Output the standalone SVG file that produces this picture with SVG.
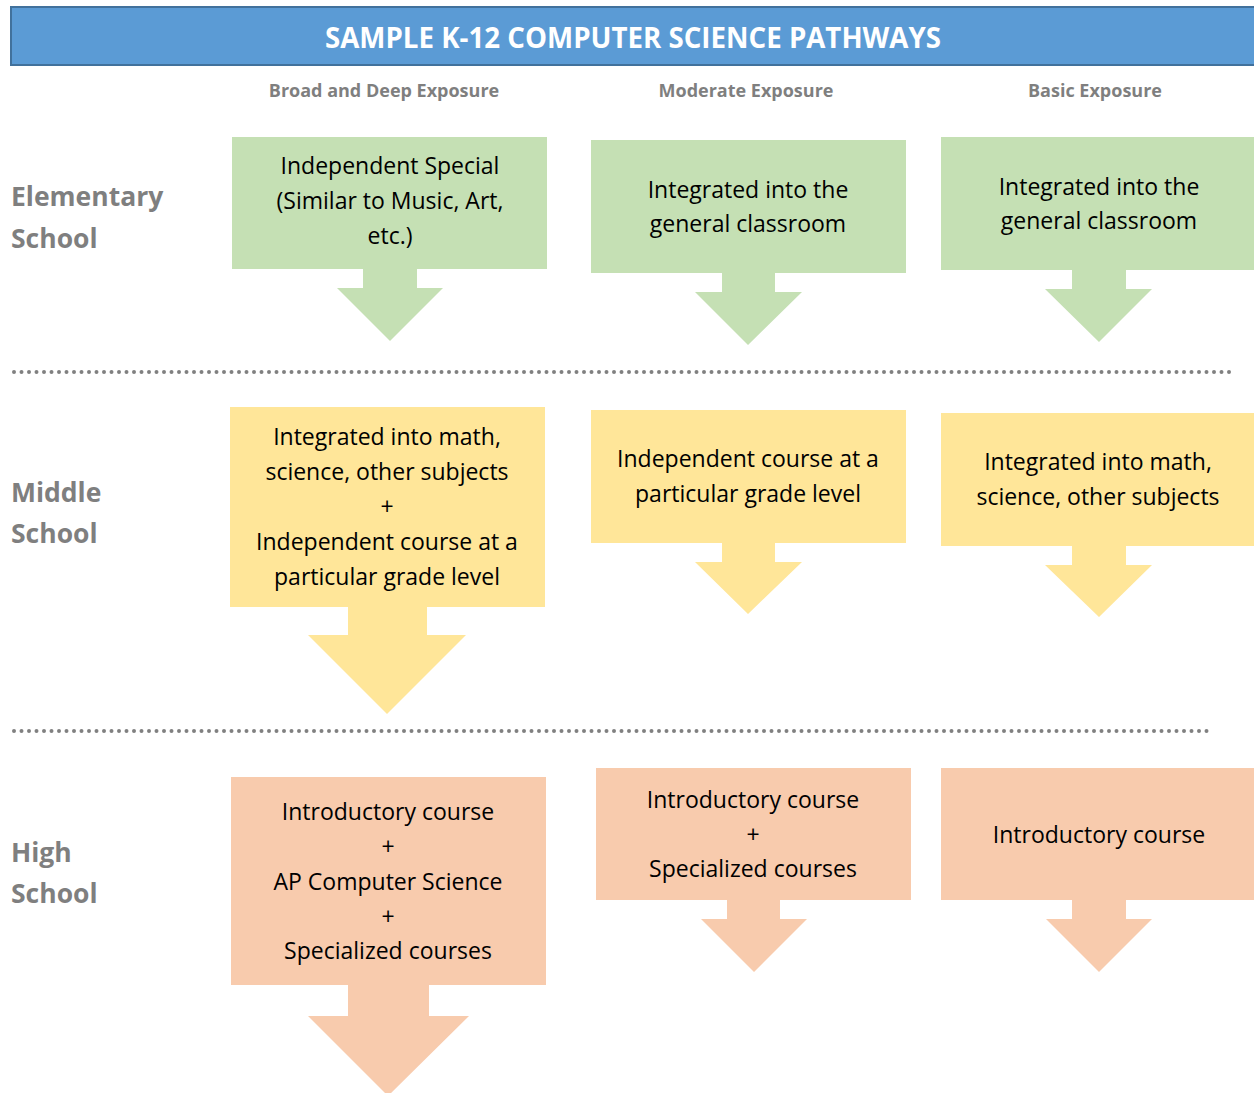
<svg xmlns="http://www.w3.org/2000/svg" width="1254" height="1093" viewBox="0 0 1254 1093">
  <style>
    .title { font-family: "Open Sans", "Liberation Sans", sans-serif; font-weight: 700; font-size: 27.7px; fill: #FFFFFF; text-anchor: middle; }
    .colhead { font-family: "Open Sans", "Liberation Sans", sans-serif; font-weight: 700; font-size: 18px; fill: #7F7F7F; text-anchor: middle; }
    .rowhead { font-family: "Open Sans", "Liberation Sans", sans-serif; font-weight: 700; font-size: 26.5px; fill: #7F7F7F; }
    .body { font-family: "Open Sans", "Liberation Sans", sans-serif; font-size: 23px; fill: #000000; text-anchor: middle; }
    .green { fill: #C5E0B4; }
    .yellow { fill: #FFE699; }
    .orange { fill: #F8CBAD; }
    .dots { stroke: #808080; stroke-width: 4; stroke-linecap: round; stroke-dasharray: 0 7.5; fill: none; }
  </style>

  <rect width="1254" height="1093" fill="#FFFFFF"/>

  <!-- title banner -->
  <g id="banner">
    <rect x="11" y="7" width="1250" height="58" fill="#5B9BD5" stroke="#41719C" stroke-width="2"/>
    <text class="title" x="633" y="48">SAMPLE K-12 COMPUTER SCIENCE PATHWAYS</text>
  </g>

  <!-- column headings -->
  <g id="columns">
    <text class="colhead" x="384" y="97">Broad and Deep Exposure</text>
    <text class="colhead" x="746" y="97">Moderate Exposure</text>
    <text class="colhead" x="1095" y="97">Basic Exposure</text>
  </g>

  <!-- row headings -->
  <g id="rows">
    <text class="rowhead" x="11" y="206">Elementary</text>
    <text class="rowhead" x="11" y="248">School</text>
    <text class="rowhead" x="11" y="502">Middle</text>
    <text class="rowhead" x="11" y="543">School</text>
    <text class="rowhead" x="11" y="862">High</text>
    <text class="rowhead" x="11" y="903">School</text>
  </g>

  <!-- dotted separators -->
  <g id="separators">
    <line class="dots" x1="14" y1="372" x2="1232" y2="372"/>
    <line class="dots" x1="14" y1="731" x2="1208" y2="731"/>
  </g>

  <!-- block arrows below each box -->
  <g id="connectors">
    <polygon class="green" points="363,268 417,268 417,288 443,288 390,341 337,288 363,288"/>
    <polygon class="green" points="722,272 775,272 775,292 802,292 748,345 695,292 722,292"/>
    <polygon class="green" points="1072,269 1126,269 1126,289 1152,289 1099,342 1045,289 1072,289"/>

    <polygon class="yellow" points="348,606 427,606 427,635 466,635 387,714 308,635 348,635"/>
    <polygon class="yellow" points="722,542 775,542 775,562 802,562 748,614 695,562 722,562"/>
    <polygon class="yellow" points="1072,545 1126,545 1126,565 1152,565 1099,617 1045,565 1072,565"/>

    <polygon class="orange" points="348,984 429,984 429,1016 469,1016 388,1096 308,1016 348,1016"/>
    <polygon class="orange" points="727,899 780,899 780,919 807,919 754,972 701,919 727,919"/>
    <polygon class="orange" points="1072,899 1126,899 1126,919 1152,919 1099,972 1046,919 1072,919"/>
  </g>

  <!-- elementary school -->
  <g id="elem-broad">
    <rect class="green" x="232" y="137" width="315" height="132"/>
    <text class="body" x="390" y="174">Independent Special</text>
    <text class="body" x="390" y="209">(Similar to Music, Art,</text>
    <text class="body" x="390" y="244">etc.)</text>
  </g>
  <g id="elem-moderate">
    <rect class="green" x="591" y="140" width="315" height="133"/>
    <text class="body" x="748" y="198">Integrated into the</text>
    <text class="body" x="748" y="232">general classroom</text>
  </g>
  <g id="elem-basic">
    <rect class="green" x="941" y="137" width="313" height="133"/>
    <text class="body" x="1099" y="195">Integrated into the</text>
    <text class="body" x="1099" y="229">general classroom</text>
  </g>

  <!-- middle school -->
  <g id="middle-broad">
    <rect class="yellow" x="230" y="407" width="315" height="200"/>
    <text class="body" x="387" y="445">Integrated into math,</text>
    <text class="body" x="387" y="480">science, other subjects</text>
    <text class="body" x="387" y="515">+</text>
    <text class="body" x="387" y="550">Independent course at a</text>
    <text class="body" x="387" y="585">particular grade level</text>
  </g>
  <g id="middle-moderate">
    <rect class="yellow" x="591" y="410" width="315" height="133"/>
    <text class="body" x="748" y="467">Independent course at a</text>
    <text class="body" x="748" y="502">particular grade level</text>
  </g>
  <g id="middle-basic">
    <rect class="yellow" x="941" y="413" width="313" height="133"/>
    <text class="body" x="1098" y="470">Integrated into math,</text>
    <text class="body" x="1098" y="505">science, other subjects</text>
  </g>

  <!-- high school -->
  <g id="high-broad">
    <rect class="orange" x="231" y="777" width="315" height="208"/>
    <text class="body" x="388" y="820">Introductory course</text>
    <text class="body" x="388" y="855">+</text>
    <text class="body" x="388" y="890">AP Computer Science</text>
    <text class="body" x="388" y="925">+</text>
    <text class="body" x="388" y="959">Specialized courses</text>
  </g>
  <g id="high-moderate">
    <rect class="orange" x="596" y="768" width="315" height="132"/>
    <text class="body" x="753" y="808">Introductory course</text>
    <text class="body" x="753" y="843">+</text>
    <text class="body" x="753" y="877">Specialized courses</text>
  </g>
  <g id="high-basic">
    <rect class="orange" x="941" y="768" width="313" height="132"/>
    <text class="body" x="1099" y="843">Introductory course</text>
  </g>
</svg>
